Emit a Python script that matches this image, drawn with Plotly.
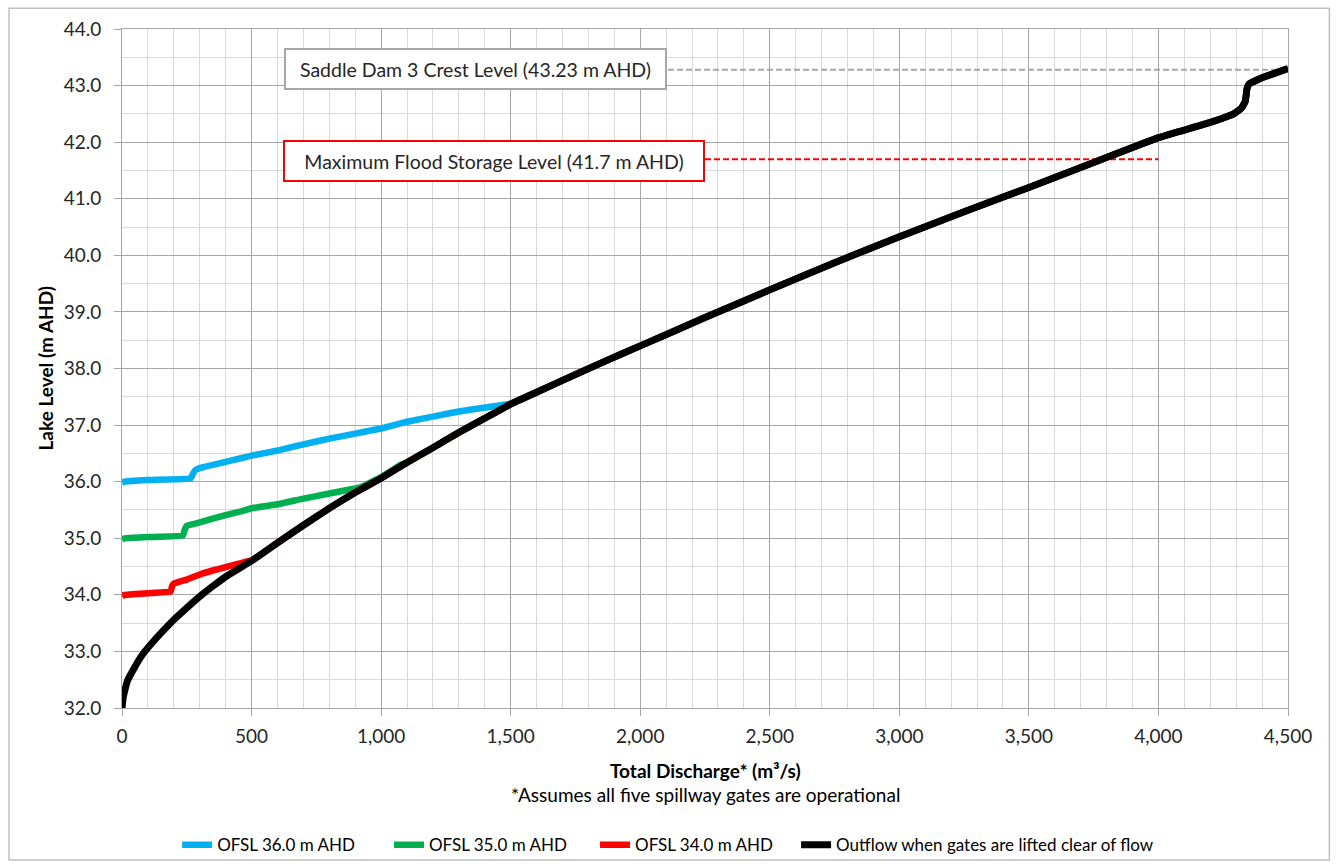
import plotly.graph_objects as go

# ---- data ----
black_q = [0, 5, 20, 50, 80, 120, 160, 200, 250, 300, 350, 400, 450, 500, 600, 700, 800, 900,
           1000, 1100, 1200, 1300, 1400, 1500, 1600, 1700, 1850, 2000, 2250, 2500, 2750, 3000,
           3250, 3500, 3750, 4000, 4200, 4290, 4320, 4335, 4342, 4350, 4400, 4450, 4500]
black_l = [32.0, 32.2, 32.47, 32.73, 32.95, 33.17, 33.37, 33.56, 33.77, 33.97, 34.15, 34.32, 34.46,
           34.6, 34.92, 35.23, 35.53, 35.81, 36.06, 36.34, 36.6, 36.87, 37.12, 37.37, 37.58, 37.79,
           38.1, 38.40, 38.9, 39.39, 39.87, 40.33, 40.77, 41.2, 41.64, 42.08, 42.35, 42.5, 42.6,
           42.72, 42.95, 43.03, 43.14, 43.22, 43.3]

blue_q = [0, 10, 100, 265, 275, 285, 300, 400, 455, 500, 600, 700, 800, 900, 1000, 1100, 1200,
          1300, 1400, 1500]
blue_l = [35.98, 36.0, 36.03, 36.06, 36.15, 36.21, 36.24, 36.35, 36.41, 36.46, 36.55, 36.66, 36.76,
          36.85, 36.94, 37.06, 37.15, 37.24, 37.31, 37.38]

green_q = [0, 10, 100, 235, 242, 250, 300, 400, 455, 500, 600, 700, 800, 900, 920, 1000, 1080]
green_l = [34.97, 35.0, 35.02, 35.05, 35.15, 35.22, 35.28, 35.41, 35.47, 35.53, 35.6, 35.7, 35.79,
           35.88, 35.9, 36.08, 36.31]

red_q = [0, 10, 100, 188, 193, 200, 250, 300, 350, 400, 450, 490]
red_l = [33.97, 34.0, 34.03, 34.06, 34.15, 34.2, 34.27, 34.36, 34.43, 34.49, 34.55, 34.6]

crest_level = 43.28
crest_q = [2107, 4500]
mfsl_level = 41.7
mfsl_q = [2250, 4000]

names = ["OFSL 36.0 m AHD", "OFSL 35.0 m AHD", "OFSL 34.0 m AHD",
         "Outflow when gates are lifted clear of flow"]
colors = ["#00B0F0", "#00B050", "#FF0000", "#000000"]
legend_ids = ["legend", "legend2", "legend3", "legend4"]
legend_x = [0.0473, 0.2290, 0.4057, 0.5781]

FONT = "Lato"
TXT = "#262626"


def extend(q, l):
    last = q[-1]
    qq = list(q) + [b for b in black_q if b > last]
    ll = list(l) + [black_l[i] for i, b in enumerate(black_q) if b > last]
    return qq, ll


fig = go.Figure()

# reference dashed lines
fig.add_trace(go.Scatter(x=crest_q, y=[crest_level] * 2, mode="lines", showlegend=False,
                         line=dict(color="#A6A6A6", width=2, dash="6px,3px"), hoverinfo="skip"))
fig.add_trace(go.Scatter(x=mfsl_q, y=[mfsl_level] * 2, mode="lines", showlegend=False,
                         line=dict(color="#FF0000", width=2, dash="6px,3px"), hoverinfo="skip"))

for (q, l), name, c, lg in zip([(blue_q, blue_l), (green_q, green_l), (red_q, red_l)],
                               names[:3], colors[:3], legend_ids[:3]):
    qq, ll = extend(q, l)
    fig.add_trace(go.Scatter(x=qq, y=ll, mode="lines", name=name, legend=lg,
                             line=dict(color=c, width=6.5, shape="spline", smoothing=0.3)))

fig.add_trace(go.Scatter(x=black_q, y=black_l, mode="lines", name=names[3], legend=legend_ids[3],
                         line=dict(color=colors[3], width=7, shape="spline", smoothing=0.3)))

# annotation boxes
fig.add_annotation(x=1364, y=43.30, xref="x", yref="y", text="Saddle Dam 3 Crest Level (43.23 m AHD)",
                   showarrow=False, bgcolor="white", bordercolor="#A6A6A6", borderwidth=2,
                   borderpad=0, width=379, height=38, font=dict(family=FONT, size=19.5, color=TXT))
fig.add_annotation(x=1436, y=41.67, xref="x", yref="y", text="Maximum Flood Storage Level (41.7 m AHD)",
                   showarrow=False, bgcolor="white", bordercolor="#FF0000", borderwidth=2,
                   borderpad=0, width=418, height=38, font=dict(family=FONT, size=19.5, color=TXT))

# axis titles and note
fig.add_annotation(x=0.5, y=-0.0914, xref="paper", yref="paper", showarrow=False,
                   xanchor="center", yanchor="middle",
                   text="<b>Total Discharge* (m³/s)</b>", font=dict(family=FONT, size=19, color="#000"))
fig.add_annotation(x=0.5, y=-0.128, xref="paper", yref="paper", showarrow=False,
                   xanchor="center", yanchor="middle",
                   text="*Assumes all five spillway gates are operational",
                   font=dict(family=FONT, size=19, color="#000"))
fig.add_annotation(x=-0.066, y=0.5, xref="paper", yref="paper", showarrow=False, textangle=-90,
                   xanchor="center", yanchor="middle",
                   text="<b>Lake Level (m AHD)</b>", font=dict(family=FONT, size=19, color="#000"))

# outer chart border
fig.add_shape(type="rect", xref="paper", yref="paper", x0=-0.0969, x1=1.0355, y0=-0.224, y1=1.0305,
              line=dict(color="#BFBFBF", width=1.5), layer="below")

legend_style = dict(orientation="h", xanchor="left", y=-0.202, yanchor="middle",
                    font=dict(family=FONT, size=17, color="#000"), itemwidth=30,
                    bgcolor="rgba(0,0,0,0)")

fig.update_layout(
    width=1340, height=868,
    margin=dict(l=122, r=52, t=29, b=160, autoexpand=False),
    paper_bgcolor="white", plot_bgcolor="white",
    font=dict(family=FONT, size=18, color="#000"),
    **{lg: dict(x=lx, **legend_style) for lg, lx in zip(legend_ids, legend_x)},
)
fig.update_xaxes(range=[0, 4500], dtick=500, tick0=0, tickformat=",", showgrid=True,
                 gridcolor="#A6A6A6", gridwidth=1, ticks="outside", ticklen=7, tickcolor="#A6A6A6",
                 showline=True, linecolor="#A6A6A6", mirror=True, zeroline=False,
                 ticklabelstandoff=4,
                 minor=dict(dtick=100, showgrid=True, gridcolor="#D9D9D9", gridwidth=1),
                 tickfont=dict(family=FONT, size=19, color=TXT))
fig.update_yaxes(range=[32, 44], dtick=1, tick0=32, tickformat=".1f", showgrid=True,
                 gridcolor="#A6A6A6", gridwidth=1, ticks="outside", ticklen=7, tickcolor="#A6A6A6",
                 showline=True, linecolor="#A6A6A6", mirror=True, zeroline=False,
                 ticklabelstandoff=9,
                 minor=dict(dtick=0.5, showgrid=True, gridcolor="#D9D9D9", gridwidth=1),
                 tickfont=dict(family=FONT, size=19, color=TXT))

fig.write_html("out.html")
